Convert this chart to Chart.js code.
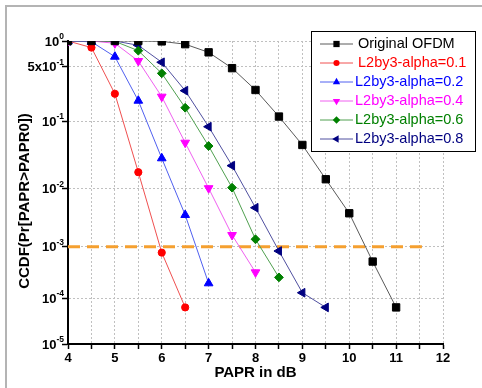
<!DOCTYPE html>
<html>
<head>
<meta charset="utf-8">
<script src="https://cdn.jsdelivr.net/npm/chart.js@4.4.0/dist/chart.umd.min.js"></script>
<style>
html, body { margin: 0; padding: 0; background: #fff; }
#wrap { width: 482px; height: 388px; }
</style>
</head>
<body>
<div id="wrap"><canvas id="ccdfChart" width="482" height="388"></canvas></div>
<script>
// values (CCDF vs PAPR threshold)
const paprDb = [4, 4.5, 5, 5.5, 6, 6.5, 7, 7.5, 8, 8.5, 9, 9.5, 10, 10.5, 11];
const originalOfdm = [1, 1, 1, 1, 0.99, 0.92, 0.74, 0.48, 0.257, 0.115, 0.046, 0.014, 0.0039, 5.3e-4, 6.4e-5];
const alpha01 = [1, 0.84, 0.23, 0.018, 7.8e-4, 6.4e-5];
const alpha02 = [1, 0.98, 0.658, 0.187, 0.0293, 3.65e-3, 2.0e-4];
const alpha04 = [1, 1, 0.942, 0.585, 0.211, 0.0496, 0.0101, 1.63e-3, 3.29e-4];
const alpha06 = [1, 1, 0.99, 0.774, 0.415, 0.151, 0.0444, 0.0103, 1.37e-3, 2.62e-4];
const alpha08 = [1, 1, 1, 0.893, 0.565, 0.252, 0.0835, 0.0227, 4.84e-3, 8.35e-4, 1.29e-4, 6.4e-5];

const threshold = 1e-3;
const thresholdSpan = [4, 11.55];

const yTickValues = [1, 0.5, 0.1, 0.01, 1e-3, 1e-4, 1e-5];
const yTickMant = ['', '5x', '', '', '', '', ''];
const yTickExp = ['0', '-1', '-1', '-2', '-3', '-4', '-5'];

const FONT = '"Liberation Sans", Arial, sans-serif';
Chart.defaults.font.family = FONT;

const toPoints = vals => vals.map((v, i) => ({ x: paprDb[i], y: v }));

// the y axis in the figure is not a plain log axis: decades shrink going down
const OFFSET = 4.9;
const warp = p => Math.log(OFFSET - Math.log10(p));

class CcdfScale extends Chart.Scale {
    determineDataLimits() {
        this.min = this.options.min;
        this.max = this.options.max;
    }
    buildTicks() {
        return yTickValues.map(v => ({ value: v }));
    }
    configure() {
        super.configure();
        this._startValue = warp(this.min);
        this._valueRange = warp(this.max) - warp(this.min);
    }
    getLabelForValue(v) {
        return String(v);
    }
    getPixelForValue(v) {
        return this.getPixelForDecimal((warp(v) - this._startValue) / this._valueRange);
    }
    getValueForPixel(px) {
        const t = this._startValue + this.getDecimalForPixel(px) * this._valueRange;
        return Math.pow(10, OFFSET - Math.exp(t));
    }
}
CcdfScale.id = 'ccdf';
CcdfScale.defaults = {};
Chart.register(CcdfScale);

function series(label, vals, line, mark, style, rot, r) {
    return {
        label: label,
        data: toPoints(vals),
        borderColor: line,
        borderWidth: 1,
        pointBackgroundColor: mark,
        pointBorderColor: mark,
        pointBorderWidth: 1,
        pointStyle: style,
        pointRotation: rot,
        pointRadius: r,
        tension: 0,
        fill: false
    };
}

const datasets = [
    series('Original OFDM', originalOfdm, '#5a5a5a', '#000000', 'rect', 0, 5.2),
    series('L2by3-alpha=0.1', alpha01, '#f05050', '#ff0000', 'circle', 0, 3.6),
    series('L2by3-alpha=0.2', alpha02, '#5060f0', '#0000ff', 'triangle', 0, 5),
    series('L2by3-alpha=0.4', alpha04, '#f060f0', '#ff00ff', 'triangle', 180, 5),
    series('L2by3-alpha=0.6', alpha06, '#50a050', '#008000', 'rectRot', 0, 4.4),
    series('L2by3-alpha=0.8', alpha08, '#5050a0', '#000080', 'triangle', 270, 5),
    {
        label: 'threshold',
        data: thresholdSpan.map(x => ({ x: x, y: threshold })),
        borderColor: '#f5a030',
        borderWidth: 3,
        borderDash: [12, 7],
        pointRadius: 0,
        fill: false,
        order: 10
    }
];

const decor = {
    id: 'decor',
    beforeDraw(chart) {
        const ctx = chart.ctx;
        ctx.save();
        ctx.fillStyle = '#fff';
        ctx.fillRect(0, 0, chart.width, chart.height);
        ctx.strokeStyle = '#b4b4b4';
        ctx.lineWidth = 2;
        ctx.beginPath();
        ctx.moveTo(6, chart.height);
        ctx.lineTo(6, 6);
        ctx.lineTo(chart.width, 6);
        ctx.stroke();
        ctx.restore();
    },
    afterDraw(chart) {
        const ctx = chart.ctx;
        const ys = chart.scales.y;
        ctx.save();
        // y tick labels with superscript exponents
        ctx.fillStyle = '#000';
        ctx.textAlign = 'left';
        ctx.textBaseline = 'alphabetic';
        yTickValues.forEach((v, i) => {
            const py = ys.getPixelForValue(v);
            ctx.font = 'bold 8.5px ' + FONT;
            const expW = ctx.measureText(yTickExp[i]).width;
            ctx.font = 'bold 13px ' + FONT;
            const base = yTickMant[i] + '10';
            const baseW = ctx.measureText(base).width;
            const right = 64;
            ctx.fillText(base, right - expW - baseW, py + 4.7);
            ctx.font = 'bold 8.5px ' + FONT;
            ctx.fillText(yTickExp[i], right - expW, py - 1.8);
        });

        // y axis title
        ctx.save();
        ctx.translate(25, 201);
        ctx.rotate(-Math.PI / 2);
        ctx.textAlign = 'center';
        ctx.textBaseline = 'middle';
        ctx.font = 'bold 15px ' + FONT;
        ctx.fillText('CCDF(Pr[PAPR>PAPR0])', 0, 0);
        ctx.restore();

        // legend box
        ctx.fillStyle = '#fff';
        ctx.fillRect(311, 31, 165, 121);
        ctx.strokeStyle = '#000';
        ctx.lineWidth = 1;
        ctx.strokeRect(311.5, 31.5, 164, 120);
        chart.data.datasets.slice(0, 6).forEach((ds, i) => {
            const y = 44 + i * 19;
            ctx.strokeStyle = ds.borderColor;
            ctx.lineWidth = 1;
            ctx.beginPath();
            ctx.moveTo(320, y);
            ctx.lineTo(353, y);
            ctx.stroke();
            ctx.fillStyle = ds.pointBackgroundColor;
            ctx.strokeStyle = ds.pointBorderColor;
            Chart.helpers.drawPoint(ctx, {
                pointStyle: ds.pointStyle,
                radius: ds.pointRadius * 0.85,
                rotation: ds.pointRotation,
                borderWidth: 0
            }, 336.5, y);
            ctx.font = '14.5px ' + FONT;
            ctx.textAlign = 'left';
            ctx.textBaseline = 'middle';
            ctx.fillText(ds.label, i < 2 ? 358 : 355, y);
        });
        ctx.restore();
    }
};

const gridOpts = {
    color: '#c0c0c0',
    lineWidth: 1,
    tickColor: '#000',
    tickWidth: 1.5,
    tickBorderDash: []
};

new Chart(document.getElementById('ccdfChart'), {
    type: 'line',
    data: { datasets: datasets },
    plugins: [decor],
    options: {
        responsive: false,
        animation: false,
        layout: { padding: { left: 0, top: 41, right: 39, bottom: 0 } },
        plugins: {
            legend: { display: false },
            tooltip: { enabled: false }
        },
        scales: {
            x: {
                type: 'linear',
                min: 4,
                max: 12,
                afterFit: s => { s.height = 44; },
                ticks: {
                    stepSize: 0.5,
                    autoSkip: false,
                    maxRotation: 0,
                    padding: 2,
                    color: '#000',
                    font: { size: 13, weight: 'bold' },
                    callback: v => Number.isInteger(v) ? String(v) : ''
                },
                grid: Object.assign({ tickLength: 5 }, gridOpts),
                border: { display: true, color: '#000', width: 2, dash: [2, 2] },
                title: {
                    display: true,
                    text: 'PAPR in dB',
                    color: '#000',
                    font: { size: 15, weight: 'bold' },
                    padding: { top: 0, bottom: 6 }
                }
            },
            y: {
                type: 'ccdf',
                position: 'left',
                min: 1e-5,
                max: 1,
                afterFit: s => { s.width = 68; },
                ticks: { display: false },
                grid: Object.assign({ tickLength: 6 }, gridOpts),
                border: { display: true, color: '#000', width: 2, dash: [2, 2] }
            }
        }
    }
});
</script>
</body>
</html>
